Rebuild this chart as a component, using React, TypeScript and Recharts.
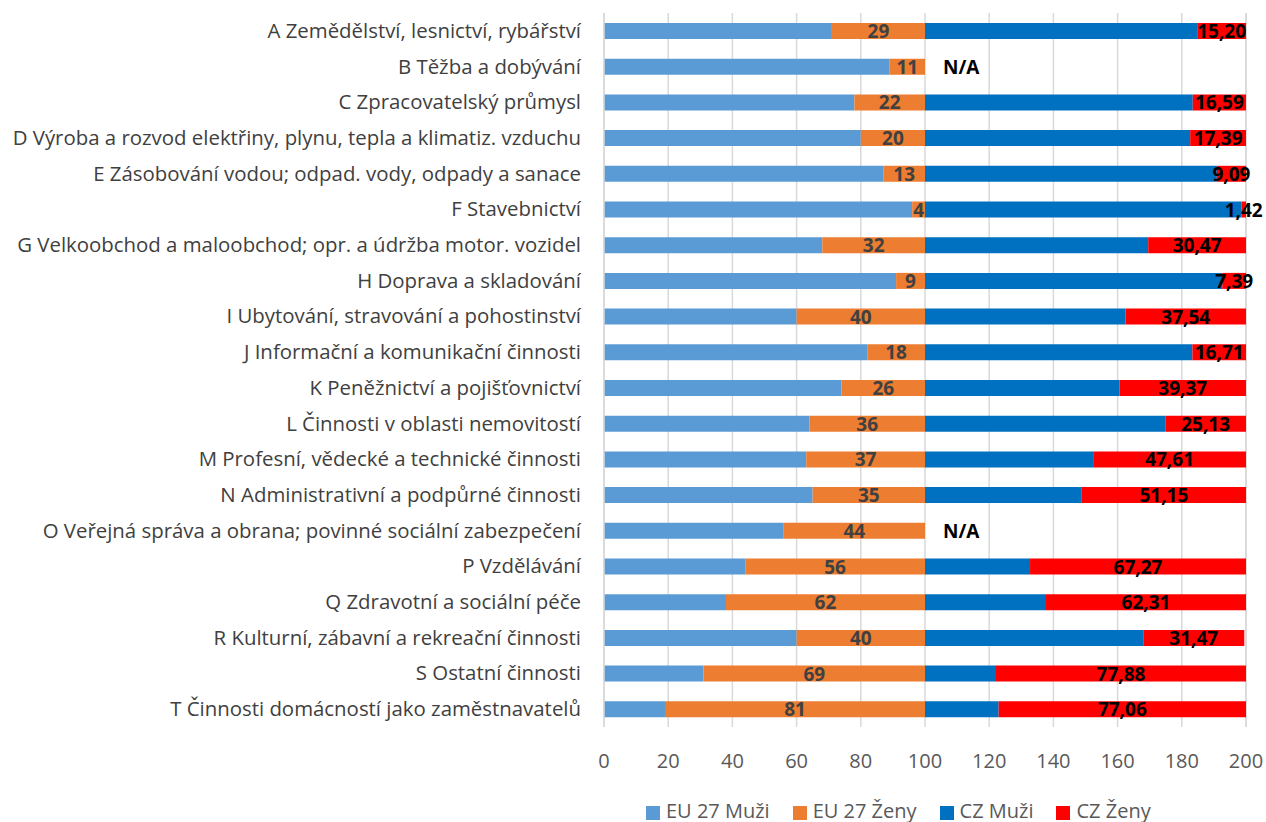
import React from "react";
import { BarChart, Bar, XAxis, YAxis, CartesianGrid, Legend, LabelList } from "recharts";

const categories = [
  "A Zemědělství, lesnictví, rybářství",
  "B Těžba a dobývání",
  "C Zpracovatelský průmysl",
  "D Výroba a rozvod elektřiny, plynu, tepla a klimatiz. vzduchu",
  "E Zásobování vodou; odpad. vody, odpady a sanace",
  "F Stavebnictví",
  "G Velkoobchod a maloobchod; opr. a údržba motor. vozidel",
  "H Doprava a skladování",
  "I Ubytování, stravování a pohostinství",
  "J Informační a komunikační činnosti",
  "K Peněžnictví a pojišťovnictví",
  "L Činnosti v oblasti nemovitostí",
  "M Profesní, vědecké a technické činnosti",
  "N Administrativní a podpůrné činnosti",
  "O Veřejná správa a obrana; povinné sociální zabezpečení",
  "P Vzdělávání",
  "Q Zdravotní a sociální péče",
  "R Kulturní, zábavní a rekreační činnosti",
  "S Ostatní činnosti",
  "T Činnosti domácností jako zaměstnavatelů",
];

const euMuzi = [71, 89, 78, 80, 87, 96, 68, 91, 60, 82, 74, 64, 63, 65, 56, 44, 38, 60, 31, 19];
const euZeny = [29, 11, 22, 20, 13, 4, 32, 9, 40, 18, 26, 36, 37, 35, 44, 56, 62, 40, 69, 81];
const czMuzi = [84.8, 0, 83.41, 82.61, 90.91, 98.58, 69.53, 92.61, 62.46, 83.29, 60.63, 74.87, 52.39, 48.85, 0, 32.73, 37.69, 68.0, 22.12, 22.94];
const czZeny = [15.2, 0, 16.59, 17.39, 9.09, 1.42, 30.47, 7.39, 37.54, 16.71, 39.37, 25.13, 47.61, 51.15, 0, 67.27, 62.31, 31.47, 77.88, 77.06];
const czZenyLabels = ["15,20", "N/A", "16,59", "17,39", "9,09", "1,42", "30,47", "7,39", "37,54", "16,71", "39,37", "25,13", "47,61", "51,15", "N/A", "67,27", "62,31", "31,47", "77,88", "77,06"];
const xTicks = [0, 20, 40, 60, 80, 100, 120, 140, 160, 180, 200];

const seriesNames = ["EU 27 Muži", "EU 27 Ženy", "CZ Muži", "CZ Ženy"];
const seriesColors = ["#5B9BD5", "#ED7D31", "#0070C0", "#FF0000"];

const data = categories.map((c, i) => ({
  name: c,
  euMuzi: euMuzi[i],
  euZeny: euZeny[i],
  czMuzi: czMuzi[i],
  czZeny: czZeny[i],
  czLabel: czZenyLabels[i],
}));

const FONT = "'Open Sans', 'Noto Sans', sans-serif";

const YTick = (props: any) => {
  const { x, y, payload } = props;
  return (
    <text x={x - 21} y={y} dy={7} textAnchor="end" fontSize={20.4} fill="#404040" fontFamily={FONT}>
      {payload.value}
    </text>
  );
};

const XTick = (props: any) => {
  const { x, y, payload } = props;
  return (
    <text x={x} y={y} dy={39} textAnchor="middle" fontSize={20} fill="#595959" fontFamily={FONT}>
      {payload.value}
    </text>
  );
};

const EuLabel = (props: any) => {
  const { x, y, width, height, value, index } = props;
  const cz = czZenyLabels[index];
  return (
    <g>
      <text x={x + width / 2} y={y + height / 2} dy={7} textAnchor="middle" fontSize={19} fontWeight="bold" fill="#404040" fontFamily={FONT}>
        {value}
      </text>
      {cz === "N/A" ? (
        <text x={x + width + 18} y={y + height / 2} dy={7} textAnchor="start" fontSize={19} fontWeight="bold" fill="#000000" fontFamily={FONT}>
          {cz}
        </text>
      ) : null}
    </g>
  );
};

const CzLabel = (props: any) => {
  const { x, y, width, height, value } = props;
  if (value === "N/A") return null;
  return (
    <text x={x + width / 2} y={y + height / 2} dy={7} textAnchor="middle" fontSize={19} fontWeight="bold" fill="#000000" fontFamily={FONT}>
      {value}
    </text>
  );
};

const LegendContent = () => (
  <div style={{ display: "flex", justifyContent: "flex-start", fontFamily: FONT, fontSize: 20, color: "#595959", paddingLeft: 646 }}>
    {seriesNames.map((n, i) => (
      <div key={n} style={{ display: "flex", alignItems: "center", marginRight: 23 }}>
        <span style={{ display: "inline-block", width: 14, height: 14, background: seriesColors[i], marginRight: 6, position: "relative", top: 2 }} />
        <span>{n}</span>
      </div>
    ))}
  </div>
);

export default function App() {
  return (
    <div style={{ position: "absolute", left: 0, top: 0, width: 1266, height: 822, background: "#fff" }}>
      <BarChart
        width={1266}
        height={822}
        data={data}
        layout="vertical"
        margin={{ top: 13, right: 20, bottom: 38, left: 0 }}
        barSize={16}
      >
        <CartesianGrid horizontal={false} stroke="#D9D9D9" strokeWidth={1.5} />
        <XAxis
          type="number"
          domain={[0, 200]}
          ticks={xTicks}
          axisLine={false}
          tickLine={false}
          tickSize={0}
          tick={<XTick />}
          interval={0}
        />
        <YAxis
          type="category"
          dataKey="name"
          width={604}
          axisLine={{ stroke: "#D9D9D9", strokeWidth: 1.5 }}
          tickLine={false}
          tickSize={0}
          tick={<YTick />}
          interval={0}
        />
        <Legend content={<LegendContent />} wrapperStyle={{ top: 797, left: 0, width: 1266 }} />
        <Bar dataKey="euMuzi" stackId="a" fill={seriesColors[0]} isAnimationActive={false} name={seriesNames[0]} />
        <Bar dataKey="euZeny" stackId="a" fill={seriesColors[1]} isAnimationActive={false} name={seriesNames[1]}>
          <LabelList dataKey="euZeny" content={<EuLabel />} />
        </Bar>
        <Bar dataKey="czMuzi" stackId="a" fill={seriesColors[2]} isAnimationActive={false} name={seriesNames[2]} />
        <Bar dataKey="czZeny" stackId="a" fill={seriesColors[3]} isAnimationActive={false} name={seriesNames[3]}>
          <LabelList dataKey="czLabel" content={<CzLabel />} />
        </Bar>
      </BarChart>
    </div>
  );
}
